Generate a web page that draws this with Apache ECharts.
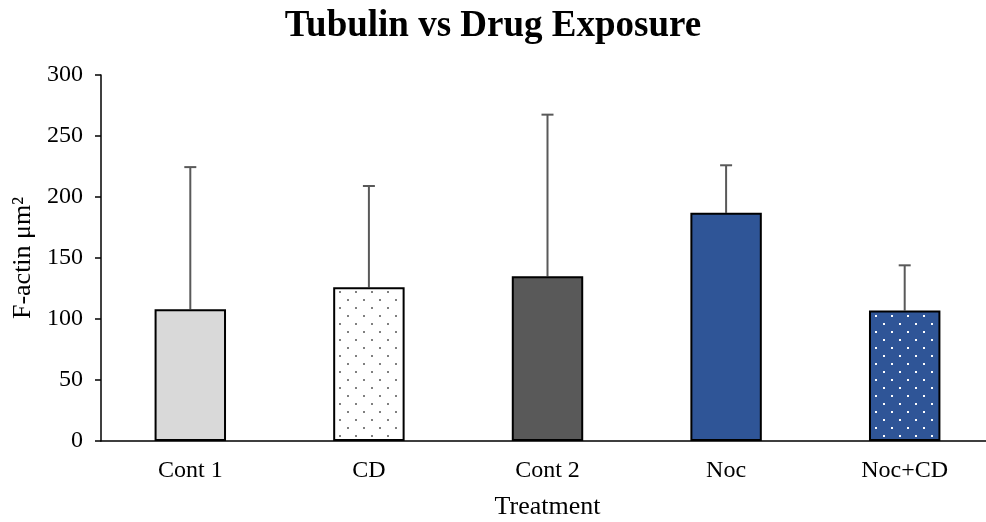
<!DOCTYPE html>
<html><head><meta charset="utf-8">
<script src="https://cdn.jsdelivr.net/npm/echarts@6/dist/echarts.min.js"></script>
<style>html,body{margin:0;padding:0;background:#fff}#c{width:986px;height:522px}</style>
</head><body><div id="c"></div>
<script>
var categories = ['Cont 1', 'CD', 'Cont 2', 'Noc', 'Noc+CD'];
var means = [108, 126, 135, 187, 107];
var errorTops = [224.5, 209, 267.5, 226, 144];
var yTicks = [0, 50, 100, 150, 200, 250, 300];

function dotPattern(bg, dot) {
  var c = document.createElement('canvas');
  c.width = 16; c.height = 16;
  var ctx = c.getContext('2d');
  ctx.fillStyle = bg; ctx.fillRect(0, 0, 16, 16);
  ctx.fillStyle = dot;
  ctx.fillRect(3, 3, 2, 2);
  ctx.fillRect(11, 11, 2, 2);
  return c;
}
var fills = [
  '#D9D9D9',
  { image: dotPattern('#ffffff', '#808080'), repeat: 'repeat' },
  '#595959',
  '#2F5597',
  { image: dotPattern('#2F5597', '#ffffff'), repeat: 'repeat' }
];

var chart = echarts.init(document.getElementById('c'), null, { renderer: 'canvas' });
var font = 'Liberation Serif';
chart.setOption({
  animation: false,
  title: {
    text: 'Tubulin vs Drug Exposure', left: 'center', top: 3,
    textStyle: { fontFamily: font, fontWeight: 'bold', fontSize: 37, color: '#000' }
  },
  grid: { left: 101, right: -8, top: 75, bottom: 81, outerBoundsMode: 'none', containLabel: false },
  xAxis: {
    type: 'category', data: categories,
    axisLine: { lineStyle: { color: '#000', width: 1.5 } },
    axisTick: { show: false },
    axisLabel: { fontFamily: font, fontSize: 24, color: '#000', margin: 18 },
    name: 'Treatment', nameLocation: 'middle', nameGap: 53,
    nameTextStyle: { fontFamily: font, fontSize: 26, color: '#000' }
  },
  yAxis: {
    type: 'value', min: 0, max: 300, interval: 50,
    axisLine: { show: true, lineStyle: { color: '#000', width: 1.5 } },
    axisTick: { show: true, length: 6, lineStyle: { color: '#000', width: 1.5 } },
    splitLine: { show: false },
    axisLabel: { fontFamily: font, fontSize: 24, color: '#000', margin: 18 },
    name: 'F-actin μm²', nameLocation: 'middle', nameGap: 64,
    nameTextStyle: { fontFamily: font, fontSize: 26, color: '#000' }
  },
  series: [
    {
      type: 'bar', barWidth: '40%',
      data: means.map(function (v, i) {
        return { value: v, itemStyle: { color: fills[i], borderColor: '#000', borderWidth: 2 } };
      }),
      z: 2
    },
    {
      type: 'custom', z: 1,
      data: means.map(function (v, i) { return [i, v, errorTops[i]]; }),
      renderItem: function (params, api) {
        var base = api.coord([api.value(0), api.value(1)]);
        var top = api.coord([api.value(0), api.value(2)]);
        var x = base[0];
        return {
          type: 'group',
          children: [
            { type: 'line', shape: { x1: x, y1: base[1], x2: x, y2: top[1] }, style: { stroke: '#595959', lineWidth: 2 } },
            { type: 'line', shape: { x1: x - 6, y1: top[1], x2: x + 6, y2: top[1] }, style: { stroke: '#595959', lineWidth: 2 } }
          ]
        };
      }
    }
  ]
});
</script></body></html>
